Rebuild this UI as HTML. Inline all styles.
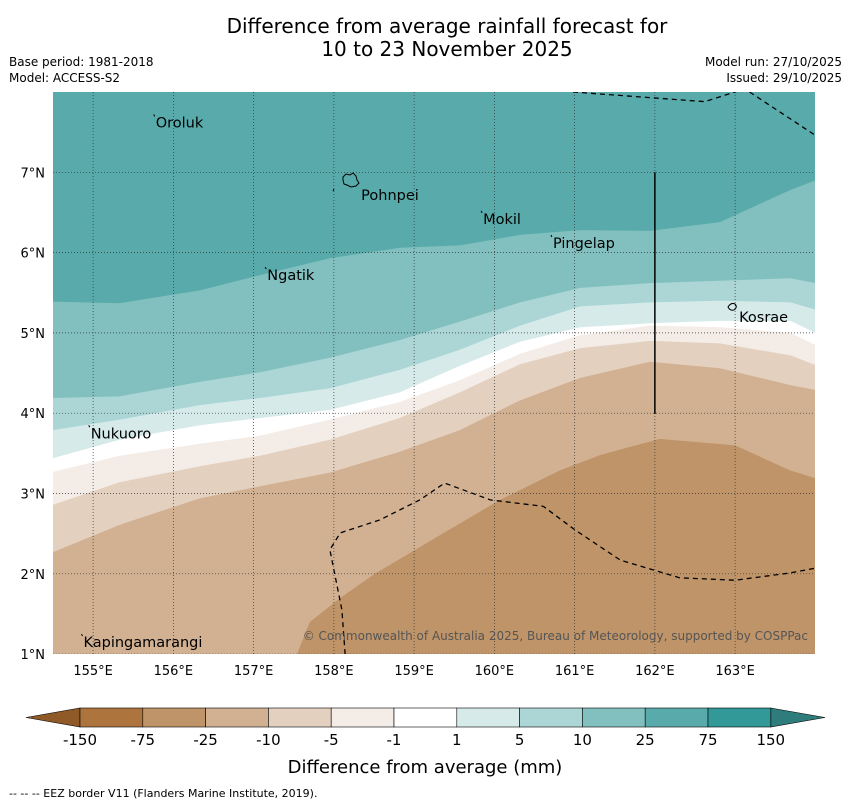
<!DOCTYPE html>
<html><head><meta charset="utf-8"><style>
body{margin:0;background:#fff;width:850px;height:804px;overflow:hidden;font-family:"Liberation Sans","DejaVu Sans",sans-serif}
</style></head><body>
<svg id="chart" width="850" height="804" viewBox="0 0 850 804" style="font-family:'DejaVu Sans','Liberation Sans',sans-serif">
<text x="447" y="33" text-anchor="middle" font-size="20">Difference from average rainfall forecast for</text>
<text x="447" y="56" text-anchor="middle" font-size="20">10 to 23 November 2025</text>
<text x="9" y="66" font-size="12">Base period: 1981-2018</text>
<text x="9" y="82" font-size="12">Model: ACCESS-S2</text>
<text x="842" y="66" font-size="12" text-anchor="end">Model run: 27/10/2025</text>
<text x="842" y="82" font-size="12" text-anchor="end">Issued: 29/10/2025</text>
<defs><clipPath id="pc"><rect x="53" y="92" width="762" height="562"/></clipPath></defs>
<g id="plot" clip-path="url(#pc)"></g>
<g id="over"></g>
<g id="cbar"></g>
<text x="425" y="773" text-anchor="middle" font-size="18">Difference from average (mm)</text>
<text x="9" y="797" font-size="11">--  --  -- EEZ border V11 (Flanders Marine Institute, 2019).</text>
</svg>
<script>
const lonGrid=[154.5,155.33,156.33,157.08,157.95,158.82,159.57,160.32,161.07,161.94,162.81,163.69,164.0];
const bnd1=[5.39,5.37,5.53,5.72,5.93,6.06,6.09,6.22,6.28,6.27,6.38,6.78,6.90];
const bnd2=[4.19,4.21,4.39,4.51,4.69,4.91,5.14,5.38,5.56,5.62,5.65,5.68,5.62];
const bnd3=[3.79,3.92,4.10,4.19,4.31,4.54,4.79,5.09,5.33,5.38,5.40,5.38,5.29];
const bnd4=[3.44,3.67,3.85,3.94,4.04,4.26,4.59,4.89,5.07,5.12,5.15,5.15,5.00];
const bnd5=[3.27,3.47,3.62,3.72,3.92,4.14,4.41,4.74,4.97,5.09,5.07,5.00,4.85];
const bnd6=[2.86,3.14,3.34,3.47,3.67,3.94,4.26,4.61,4.81,4.90,4.87,4.72,4.60];
const bnd7=[2.27,2.61,2.94,3.09,3.26,3.52,3.79,4.16,4.44,4.64,4.56,4.35,4.29];
const bnd8Lon=[157.54,157.70,158.08,158.51,159.32,160.07,160.82,161.32,162.06,163.00,163.68,164.0];
const bnd8Lat=[1.0,1.40,1.70,2.00,2.48,2.92,3.29,3.48,3.68,3.60,3.29,3.19];
const eezLon=[158.14,158.10,157.95,158.08,158.57,159.07,159.38,159.95,160.61,161.0,161.57,162.31,163.0,163.68,164.0];
const eezLat=[1.0,1.55,2.30,2.51,2.67,2.92,3.13,2.92,2.84,2.55,2.17,1.95,1.92,2.01,2.07];
const eezTopLon=[160.98,162.62,163.06];const eezTopLat=[8.0,7.88,8.02];
const eezTop2Lon=[163.18,164.0];const eezTop2Lat=[8.0,7.46];
const levels=['-150','-75','-25','-10','-5','-1','1','5','10','25','75','150'];
const colors=['#ad743e','#bf9468','#d2b193','#e3d0bf','#f4ece6','#ffffff','#d6eaea','#abd6d5','#82c0bf','#59abab','#329898'];
const lonTicks=[155,156,157,158,159,160,161,162,163];
const latTicks=[1,2,3,4,5,6,7];
const places=[['Oroluk',155.78,7.62],['Pohnpei',158.34,6.72],['Mokil',159.86,6.42],['Pingelap',160.73,6.12],['Ngatik',157.17,5.72],['Kosrae',163.05,5.2],['Nukuoro',154.97,3.75],['Kapingamarangi',154.88,1.15]];
const X=lon=>53+(lon-154.5)*80.25, Y=lat=>92+(8-lat)*80.3;
const NS='http://www.w3.org/2000/svg';
function mk(tag,at,par){const e=document.createElementNS(NS,tag);for(const k in at)e.setAttribute(k,at[k]);par.appendChild(e);return e;}
const plot=document.getElementById('plot'),over=document.getElementById('over'),cb=document.getElementById('cbar');
let bg=mk('rect',{x:53,y:92,width:762,height:562,fill:colors[9]},plot);


const bands=[[bnd1,8],[bnd2,7],[bnd3,6],[bnd4,5],[bnd5,4],[bnd6,3],[bnd7,2]];
bands.forEach(([b,ci])=>{let d='M'+lonGrid.map((l,i)=>X(l)+','+Y(b[i])).join(' L')+' L815,660 L50,660 Z';
 const p=mk('path',{d:d,fill:colors[ci]},plot);
 
 });
{let d='M'+bnd8Lon.map((l,i)=>X(l)+','+Y(bnd8Lat[i])).join(' L')+' L820,660 L'+X(157.54)+',660 Z';
 const p=mk('path',{d:d,fill:colors[1]},plot);
 
 }
lonTicks.forEach(l=>{const g=mk('line',{x1:X(l),x2:X(l),y1:92,y2:654,stroke:'#333','stroke-width':0.7,'stroke-dasharray':'1,2'},plot);
 
 const t=mk('text',{x:X(l),y:675,'text-anchor':'middle','font-size':13},over);t.textContent=l+'°E';
 });
latTicks.forEach(l=>{const g=mk('line',{x1:53,x2:815,y1:Y(l),y2:Y(l),stroke:'#333','stroke-width':0.7,'stroke-dasharray':'1,2'},plot);
 
 const t=mk('text',{x:45,y:Y(l)+5,'text-anchor':'end','font-size':13},over);t.textContent=l+'°N';
 });
function dash(lons,lats,name){const p=mk('polyline',{points:lons.map((l,i)=>X(l)+','+Y(lats[i])).join(' '),fill:'none',stroke:'#000','stroke-width':1.3,'stroke-dasharray':'5,4'},plot);
 }
dash(eezLon,eezLat,'eez-border-south');dash(eezTopLon,eezTopLat,'eez-border-north');dash(eezTop2Lon,eezTop2Lat,'eez-border-northeast');
let vl=mk('line',{x1:X(162),x2:X(162),y1:Y(7),y2:Y(3.99),stroke:'#000','stroke-width':1.5},plot);

let isl=mk('path',{d:'M343,177 l3,-3 l4,1 l3,-2 l3,3 l1,4 l2,3 l-3,3 l-5,1 l-4,-2 l-3,-1 l-1,-4 Z M333,191 l1,-2',fill:'none',stroke:'#000','stroke-width':1},over);

let isk=mk('path',{d:'M728,307 q3,-5 7,-3 q3,3 -1,6 q-4,1 -6,-3 Z',fill:'none',stroke:'#000','stroke-width':1},over);

places.forEach(([n,lo,la])=>{const t=mk('text',{x:X(lo),y:Y(la)+5,'font-size':14.5},over);t.textContent=n;
 
 if(n!=='Pohnpei'&&n!=='Kosrae'){const m=mk('line',{x1:X(lo)-2,y1:Y(la)-8,x2:X(lo)-1,y2:Y(la)-6,stroke:'#000','stroke-width':1},over);
 }});
let cp=mk('text',{x:808,y:640,'text-anchor':'end','font-size':12,fill:'#555'},over);cp.textContent='© Commonwealth of Australia 2025, Bureau of Meteorology, supported by COSPPac';

const cx0=80,cw=62.8,cy=708,ch=19;
let la=mk('polygon',{points:`26,717.5 ${cx0},${cy} ${cx0},${cy+ch}`,fill:'#8f5a28',stroke:'#000','stroke-width':0.6},cb);

let ra=mk('polygon',{points:`${cx0+11*cw},${cy} 825,717.5 ${cx0+11*cw},${cy+ch}`,fill:'#2e7c7b',stroke:'#000','stroke-width':0.6},cb);

colors.forEach((c,i)=>{const r=mk('rect',{x:cx0+i*cw,y:cy,width:cw,height:ch,fill:c,stroke:'#000','stroke-width':0.6},cb);
 });
levels.forEach((lv,i)=>{const t=mk('text',{x:cx0+i*cw,y:745,'text-anchor':'middle','font-size':15},cb);t.textContent=lv;
 });
</script>
</body></html>
